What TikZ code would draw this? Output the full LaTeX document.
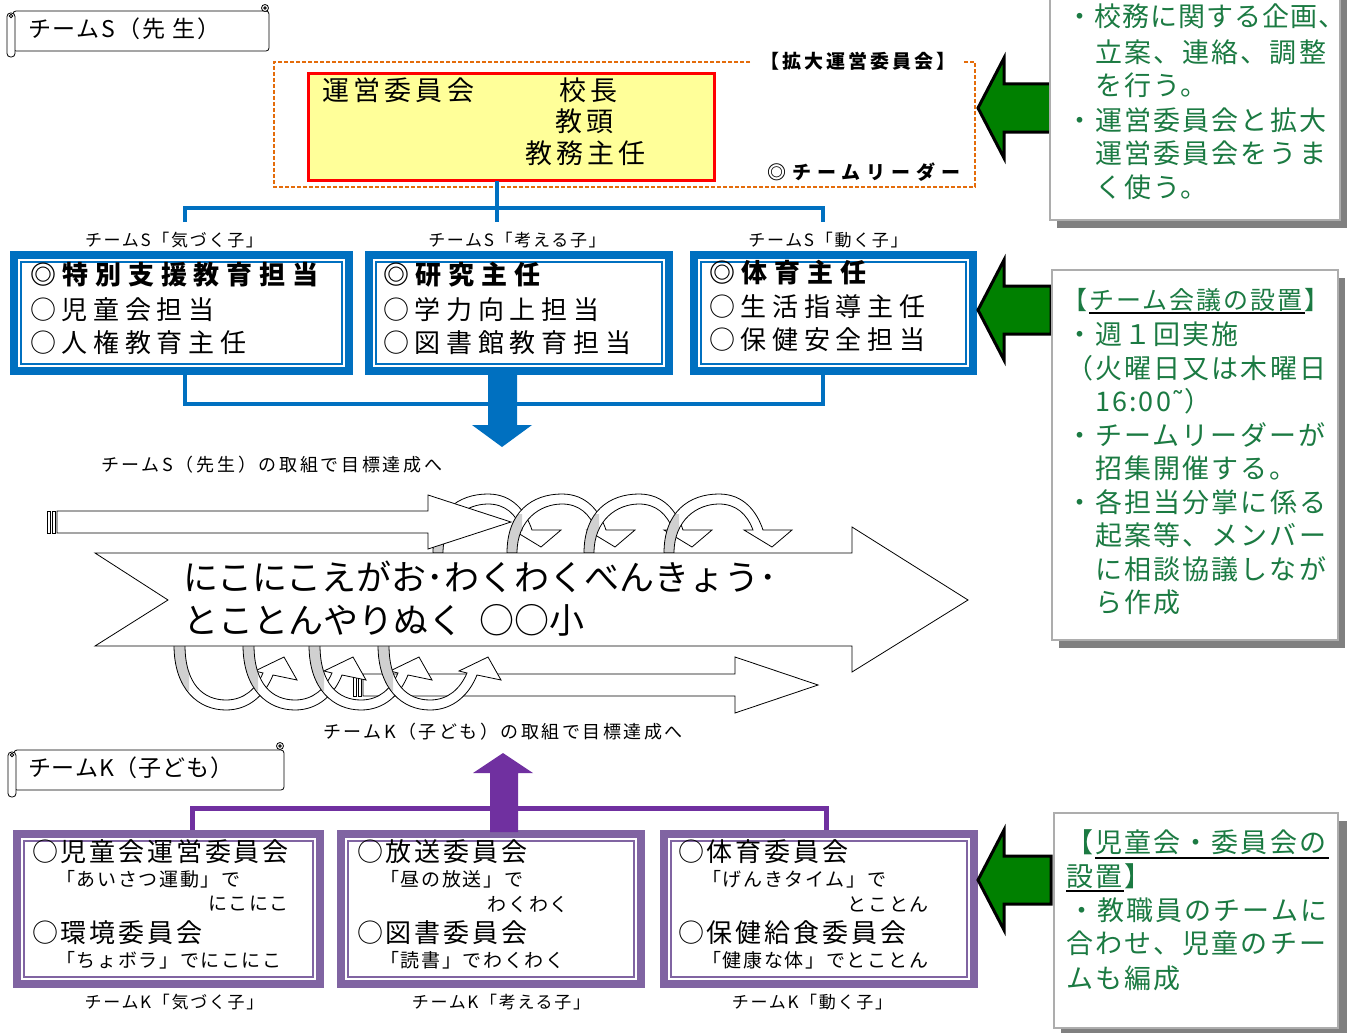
\documentclass[tikz,border=0pt]{standalone}
\usepackage{fontspec}
\setmainfont{Noto Sans CJK JP}
\newfontfamily\dvfont{DejaVu Sans}
\newcommand\fsz[2]{\fontsize{#1pt}{#1pt}\selectfont\addfontfeatures{LetterSpace=#2}}
\definecolor{sblue}{HTML}{0070C0}
\definecolor{kpurple}{HTML}{7030A0}
\definecolor{pbox}{HTML}{8064A2}
\definecolor{yellowC}{HTML}{FFFF99}
\definecolor{orangeC}{HTML}{E46C0A}
\definecolor{greenArrowC}{HTML}{008000}
\definecolor{gtext}{HTML}{1B7A42}
\definecolor{boxgray}{HTML}{ADADAD}
\definecolor{shadowC}{HTML}{808080}
\definecolor{backgray}{HTML}{D0D0D0}
\begin{document}
\begin{tikzpicture}[x=1pt,y=-1pt,
  txt/.style={inner sep=0pt,outer sep=0pt,text=black},
  lw/.style={txt,anchor=west},
  le/.style={txt,anchor=east},
  gw/.style={inner sep=0pt,outer sep=0pt,anchor=west,text=gtext},
  bline/.style={draw=sblue,line width=4pt},
  pline/.style={draw=kpurple,line width=5pt},
  grarrow/.style={fill=greenArrowC,draw=black,line width=3pt,line join=miter},
  tbox/.style={draw=boxgray,line width=2.5pt,fill=white},
  ribbon/.style={draw=black,line width=0.8pt,fill=white},
  rline/.style={draw=black,line width=0.8pt},
  boxfill/.style={inner sep=0pt,outer sep=0pt,anchor=north west,fill=#1,draw=none},
]
\useasboundingbox (0,0) rectangle (1350,1033);
\fill[white] (0,0) rectangle (1350,1033);

% ---------- banner S
\draw[ribbon,rounded corners=3pt] (13,11) rectangle (269,51);
\draw[ribbon] (265,8) circle (3.5pt);
\draw[rline] (265,8) circle (1.3pt);
\draw[ribbon,rounded corners=3.5pt] (7,13) rectangle (15,57);
\draw[rline] (11,16) circle (1.8pt);
\node[lw,font=\fsz{23}{8}] (bannerS) at (28,29) {チームS（先 生）};

% ---------- extended committee
\draw[dash pattern=on 4pt off 2pt,draw=orangeC,line width=2pt] (750,62) -- (274,62) -- (274,187) -- (975,187) -- (975,62) -- (963,62);
\node[lw,font=\bfseries\fsz{19}{16}] (kakudai) at (760,61) {【拡大運営委員会】};
\node[lw,font=\bfseries\fsz{19}{32}] (leader) at (767,172) {◎チームリーダー};

\node[inner sep=0pt,outer sep=0pt,anchor=north west,draw=red,line width=3pt,fill=yellowC,minimum width=406pt,minimum height=107pt] (unei) at (308.5,73.5) {};
\node[lw,font=\fsz{27}{16}] (uneiT) at (322,90) {運営委員会};
\node[lw,font=\fsz{27}{16}] (kocho) at (559,90) {校長};
\node[lw,font=\fsz{27}{16}] (kyoto) at (555,121) {教頭};
\node[lw,font=\fsz{27}{16}] (kyomu) at (525,153) {教務主任};

% ---------- blue boxes
\node[boxfill=sblue,minimum width=343pt,minimum height=124pt] (bS1) at (10,251) {};
\node[boxfill=sblue,minimum width=308pt,minimum height=124pt] (bS2) at (365,251) {};
\node[boxfill=sblue,minimum width=287pt,minimum height=124pt] (bS3) at (690,251) {};
\foreach \n in {bS1,bS2,bS3}{
  \fill[white] ([shift={(8,8)}]\n.north west) rectangle ([shift={(-8,-8)}]\n.south east);
  \draw[sblue,line width=2pt] ([shift={(11,11)}]\n.north west) rectangle ([shift={(-11,-11)}]\n.south east);
}
\node[lw,font=\bfseries\fsz{26}{26}] (s11) at (30,275) {◎特別支援教育担当};
\node[lw,font=\fsz{26}{22}] (s12) at (30,310) {○児童会担当};
\node[lw,font=\fsz{26}{22}] (s13) at (30,343) {○人権教育主任};
\node[lw,font=\bfseries\fsz{26}{26}] (s21) at (383,275) {◎研究主任};
\node[lw,font=\fsz{26}{22}] (s22) at (383,310) {○学力向上担当};
\node[lw,font=\fsz{26}{22}] (s23) at (383,343) {○図書館教育担当};
\node[lw,font=\bfseries\fsz{26}{26}] (s31) at (709,273) {◎体育主任};
\node[lw,font=\fsz{26}{22}] (s32) at (709,307) {○生活指導主任};
\node[lw,font=\fsz{26}{22}] (s33) at (709,340) {○保健安全担当};

\node[txt,font=\fsz{17}{10}] (lS1) at (174,240) {チームS「気づく子」};
\node[txt,font=\fsz{17}{10}] (lS2) at (517,240) {チームS「考える子」};
\node[txt,font=\fsz{17}{10}] (lS3) at (828,240) {チームS「動く子」};

% blue connectors
\coordinate (jS1) at (185,222);
\coordinate (jS2) at (497,222);
\coordinate (jS3) at (823,222);
\coordinate (hS) at (0,208);
\draw[bline] (unei.south -| jS2) -- (jS2);
\draw[bline] (jS1) -- (jS1 |- hS) -- (jS3 |- hS) -- (jS3);
\draw[bline] (bS1.south -| jS1) -- ++(0,29) -| (bS3.south -| jS3);
\fill[sblue] (488,375) -- (517,375) -- (517,425) -- (532,425) -- (502,447) -- (472,425) -- (488,425) -- cycle;

\node[lw,font=\fsz{18}{15}] (goalS) at (101,465) {チームS（先生）の取組で目標達成へ};

% ---------- upper curved arrows
\foreach \L in {433,507,584,664}{
  \path[save path=\arcp] (\L,553) .. controls (\L,512) and (\L+25,494) .. (\L+55,494) .. controls (\L+80,494) and (\L+93,512) .. (\L+99,530) -- (\L+128,530) -- (\L+108,547) -- (\L+80,530) -- (\L+89,530) .. controls (\L+83,514) and (\L+72,504) .. (\L+55,504) .. controls (\L+33,504) and (\L+10,520) .. (\L+10,553) -- cycle;
  \fill[white,use path=\arcp];
  \begin{scope}
    \clip (\L-3,514) rectangle (\L+15,556);
    \fill[backgray,use path=\arcp];
  \end{scope}
  \draw[rline,line join=miter,use path=\arcp];
}

% upper thin arrow
\draw[ribbon] (47,511) rectangle (50,533);
\draw[ribbon] (52,511) rectangle (55,533);
\draw[ribbon] (57,511) -- (428,511) -- (428,495) -- (511,522) -- (428,549) -- (428,533) -- (57,533) -- cycle;

% lower thin arrow
\draw[ribbon] (353,674) rectangle (356,696);
\draw[ribbon] (358,674) rectangle (361,696);
\draw[ribbon] (363,674) -- (735,674) -- (735,657) -- (818,685) -- (735,713) -- (735,696) -- (363,696) -- cycle;

% lower loops
\foreach \L in {174,243,309,378}{
  \path[save path=\loopp] (\L,645) .. controls (\L,690) and (\L+25,710) .. (\L+52,710) .. controls (\L+75,710) and (\L+91,695) .. (\L+99,675) -- (\L+123,680) -- (\L+110,657) -- (\L+81,671) -- (\L+89,673) .. controls (\L+82,689) and (\L+70,700) .. (\L+52,700) .. controls (\L+30,700) and (\L+11,685) .. (\L+11,645) -- cycle;
  \fill[white,use path=\loopp];
  \begin{scope}
    \clip (\L-3,643) rectangle (\L+15,690);
    \fill[backgray,use path=\loopp];
  \end{scope}
  \draw[rline,line join=miter,use path=\loopp];
}

% big arrow
\draw[ribbon] (95,553) -- (852,553) -- (852,527) -- (968,600) -- (852,672) -- (852,646) -- (95,646) -- (168,600) -- cycle;
\node[lw,font=\fsz{35}{0}] (mottoA) at (183,577) {にこにこえがお･わくわくべんきょう･};
\node[lw,font=\fsz{35}{0}] (mottoB) at (183,620) {とことんやりぬく\hspace{17pt}○○小};

\node[lw,font=\fsz{18}{14}] (goalK) at (323,732) {チームK（子ども）の取組で目標達成へ};

% ---------- banner K
\draw[ribbon,rounded corners=3pt] (14,750) rectangle (284,790);
\draw[ribbon] (280,746) circle (3.5pt);
\draw[rline] (280,746) circle (1.3pt);
\draw[ribbon,rounded corners=3.5pt] (8,752) rectangle (16,797);
\draw[rline] (12,755) circle (1.8pt);
\node[lw,font=\fsz{23}{4}] (bannerK) at (28,768) {チームK（子ども）};

% ---------- purple boxes
\node[boxfill=pbox,minimum width=311pt,minimum height=158pt] (pK1) at (13,830) {};
\node[boxfill=pbox,minimum width=308pt,minimum height=158pt] (pK2) at (337,830) {};
\node[boxfill=pbox,minimum width=318pt,minimum height=158pt] (pK3) at (660,830) {};
\foreach \n in {pK1,pK2,pK3}{
  \fill[white] ([shift={(8,8)}]\n.north west) rectangle ([shift={(-8,-8)}]\n.south east);
  \draw[pbox,line width=2pt] ([shift={(11,11)}]\n.north west) rectangle ([shift={(-11,-11)}]\n.south east);
}
\coordinate (jK1) at (192,0);
\coordinate (jK3) at (826,0);
\draw[pline] (pK1.north -| jK1) -- ++(0,-22) -| (pK3.north -| jK3);
\fill[kpurple] (490,832) -- (490,773) -- (473,773) -- (503,753) -- (533,773) -- (518,773) -- (518,832) -- cycle;

\node[lw,font=\fsz{26}{11}] (k11) at (32,852) {○児童会運営委員会};
\node[lw,font=\fsz{19}{9}] (k12) at (56,879) {「あいさつ運動」で};
\node[le,font=\fsz{19}{9}] (k13) at (289,904) {にこにこ};
\node[lw,font=\fsz{26}{11}] (k14) at (32,933) {○環境委員会};
\node[lw,font=\fsz{19}{9}] (k15) at (56,960) {「ちょボラ」でにこにこ};

\node[lw,font=\fsz{26}{11}] (k21) at (357,852) {○放送委員会};
\node[lw,font=\fsz{19}{9}] (k22) at (380,879) {「昼の放送」で};
\node[le,font=\fsz{19}{9}] (k23) at (569,904) {わくわく};
\node[lw,font=\fsz{26}{11}] (k24) at (357,933) {○図書委員会};
\node[lw,font=\fsz{19}{9}] (k25) at (380,960) {「読書」でわくわく};

\node[lw,font=\fsz{26}{11}] (k31) at (678,852) {○体育委員会};
\node[lw,font=\fsz{19}{9}] (k32) at (702,879) {「げんきタイム」で};
\node[le,font=\fsz{19}{9}] (k33) at (929,904) {とことん};
\node[lw,font=\fsz{26}{11}] (k34) at (678,933) {○保健給食委員会};
\node[lw,font=\fsz{19}{9}] (k35) at (702,960) {「健康な体」でとことん};

\node[txt,font=\fsz{17}{10}] (lK1) at (174,1002) {チームK「気づく子」};
\node[txt,font=\fsz{17}{10}] (lK2) at (501,1002) {チームK「考える子」};
\node[txt,font=\fsz{17}{10}] (lK3) at (812,1002) {チームK「動く子」};

% ---------- green arrows
\foreach \c in {108,310,880}{
  \draw[grarrow] (978,\c) -- (1004,\c-50) -- (1004,\c-24) -- (1051,\c-24) -- (1051,\c+24) -- (1004,\c+24) -- (1004,\c+50) -- cycle;
}

% ---------- text boxes
\fill[shadowC] (1057,-5) rectangle (1347,228);
\node[inner sep=0pt,outer sep=0pt,anchor=north west,tbox,minimum width=290pt,minimum height=230pt] (boxA) at (1050,-10) {};
\fill[shadowC] (1059,278) rectangle (1345,648);
\node[inner sep=0pt,outer sep=0pt,anchor=north west,tbox,minimum width=286pt,minimum height=370pt] (boxB) at (1052,270) {};
\fill[shadowC] (1061,821) rectangle (1347,1036);
\node[inner sep=0pt,outer sep=0pt,anchor=north west,tbox,minimum width=284pt,minimum height=215pt] (boxC) at (1054,813) {};

% box A text
\node[gw,font=\fsz{27}{4}] (a1) at (1066,16) {・校務に関する企画、};
\node[gw,font=\fsz{27}{8}] (a2) at (1095,52) {立案、連絡、調整};
\node[gw,font=\fsz{27}{8}] (a3) at (1095,85) {を行う。};
\node[gw,font=\fsz{27}{8}] (a4) at (1066,120) {・運営委員会と拡大};
\node[gw,font=\fsz{27}{8}] (a5) at (1095,153) {運営委員会をうま};
\node[gw,font=\fsz{27}{8}] (a6) at (1095,187) {く使う。};

% box B text
\node[gw,font=\fsz{25}{8}] (b1) at (1062,300) {【チーム会議の設置】};
\draw[black,line width=1.5pt] (1089,313) -- (1305,313);
\node[gw,font=\fsz{27}{8}] (b2) at (1066,334) {・週１回実施};
\node[gw,font=\fsz{27}{8}] (b3) at (1066,368) {（火曜日又は木曜日};
\node[gw,font=\fsz{27}{8}] (b4) at (1095,401) {16:00{\dvfont ˜}）};
\node[gw,font=\fsz{27}{8}] (b5) at (1066,435) {・チームリーダーが};
\node[gw,font=\fsz{27}{8}] (b6) at (1095,468) {招集開催する。};
\node[gw,font=\fsz{27}{8}] (b7) at (1066,502) {・各担当分掌に係る};
\node[gw,font=\fsz{27}{8}] (b8) at (1095,535) {起案等、メンバー};
\node[gw,font=\fsz{27}{8}] (b9) at (1095,569) {に相談協議しなが};
\node[gw,font=\fsz{27}{8}] (b10) at (1095,602) {ら作成};

% box C text
\node[gw,font=\fsz{27}{8}] (c1) at (1066,842) {【児童会・委員会の};
\draw[black,line width=1.5pt] (1095,858) -- (1329,858);
\node[gw,font=\fsz{27}{8}] (c2) at (1066,876) {設置】};
\draw[black,line width=1.5pt] (1066,891) -- (1124,891);
\node[gw,font=\fsz{27}{8}] (c3) at (1068,910) {・教職員のチームに};
\node[gw,font=\fsz{27}{8}] (c4) at (1066,943) {合わせ、児童のチー};
\node[gw,font=\fsz{27}{8}] (c5) at (1066,978) {ムも編成};
\end{tikzpicture}
\end{document}
